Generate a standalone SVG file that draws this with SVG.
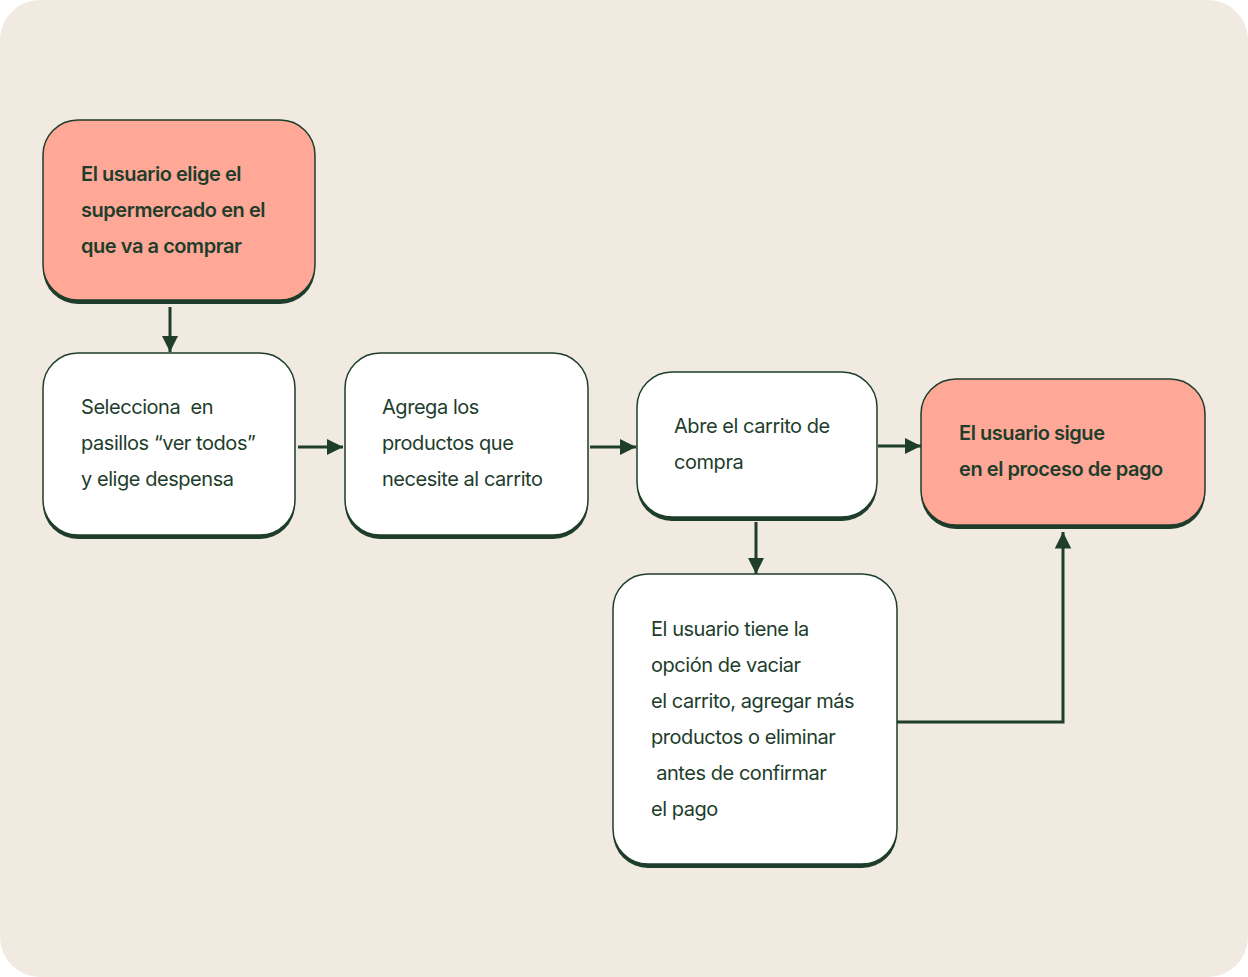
<svg xmlns="http://www.w3.org/2000/svg" width="1248" height="977" viewBox="0 0 1248 977">
<defs>
<style>
.bg{fill:#F1EAE0}
.sh{fill:#1E3D2B}
.box{fill:#FFFFFF;stroke:#1E3D2B;stroke-width:1.5}
.hot{fill:#FFA898;stroke:#1E3D2B;stroke-width:1.5}
text{font-family:Inter,"Liberation Sans",sans-serif;font-size:20px;fill:#1E3D2B;letter-spacing:-0.45px;white-space:pre}
.b{font-weight:600}
.c{fill:none;stroke:#1E3D2B;stroke-width:3}
</style>
<marker id="ah" viewBox="0 0 10 10" refX="10" refY="5" markerWidth="5.5" markerHeight="5.5" markerUnits="strokeWidth" orient="auto">
<path d="M0,0 L10,5 L0,10 z" fill="#1E3D2B"/>
</marker>
</defs>
<rect width="1248" height="977" fill="#FFFFFF"/>
<rect class="bg" x="0" y="0" width="1248" height="977" rx="40"/>
<g id="connectors">
<line class="c" x1="170" y1="307" x2="170" y2="352" marker-end="url(#ah)"/>
<line class="c" x1="298" y1="447" x2="343" y2="447" marker-end="url(#ah)"/>
<line class="c" x1="590" y1="447" x2="636" y2="447" marker-end="url(#ah)"/>
<line class="c" x1="878" y1="446" x2="921" y2="446" marker-end="url(#ah)"/>
<line class="c" x1="756" y1="522" x2="756" y2="574" marker-end="url(#ah)"/>
<polyline class="c" points="897,722 1063,722 1063,532" marker-end="url(#ah)"/>
</g>
<g id="n1">
<rect class="sh" x="43" y="124" width="272" height="180" rx="35"/>
<rect class="hot" x="43" y="120" width="272" height="180" rx="35"/>
<text class="b" x="81" y="181">El usuario elige el</text>
<text class="b" x="81" y="217">supermercado en el</text>
<text class="b" x="81" y="253">que va a comprar</text>
</g>
<g id="n2">
<rect class="sh" x="43" y="357" width="252" height="182" rx="35"/>
<rect class="box" x="43" y="353" width="252" height="182" rx="35"/>
<text x="81" y="414">Selecciona  en</text>
<text x="81" y="450">pasillos “ver todos”</text>
<text x="81" y="486">y elige despensa</text>
</g>
<g id="n3">
<rect class="sh" x="345" y="357" width="243" height="182" rx="35"/>
<rect class="box" x="345" y="353" width="243" height="182" rx="35"/>
<text x="382" y="414">Agrega los</text>
<text x="382" y="450">productos que</text>
<text x="382" y="486">necesite al carrito</text>
</g>
<g id="n4">
<rect class="sh" x="637" y="376" width="240" height="145" rx="35"/>
<rect class="box" x="637" y="372" width="240" height="145" rx="35"/>
<text x="674" y="433">Abre el carrito de</text>
<text x="674" y="469">compra</text>
</g>
<g id="n5">
<rect class="sh" x="921" y="383" width="284" height="146" rx="35"/>
<rect class="hot" x="921" y="379" width="284" height="146" rx="35"/>
<text class="b" x="959" y="440">El usuario sigue</text>
<text class="b" x="959" y="476">en el proceso de pago</text>
</g>
<g id="n6">
<rect class="sh" x="613" y="578" width="284" height="290" rx="35"/>
<rect class="box" x="613" y="574" width="284" height="290" rx="35"/>
<text x="651" y="636">El usuario tiene la</text>
<text x="651" y="672">opción de vaciar</text>
<text x="651" y="708">el carrito, agregar más</text>
<text x="651" y="744">productos o eliminar</text>
<text x="651" y="780"> antes de confirmar</text>
<text x="651" y="816">el pago</text>
</g>
</svg>
